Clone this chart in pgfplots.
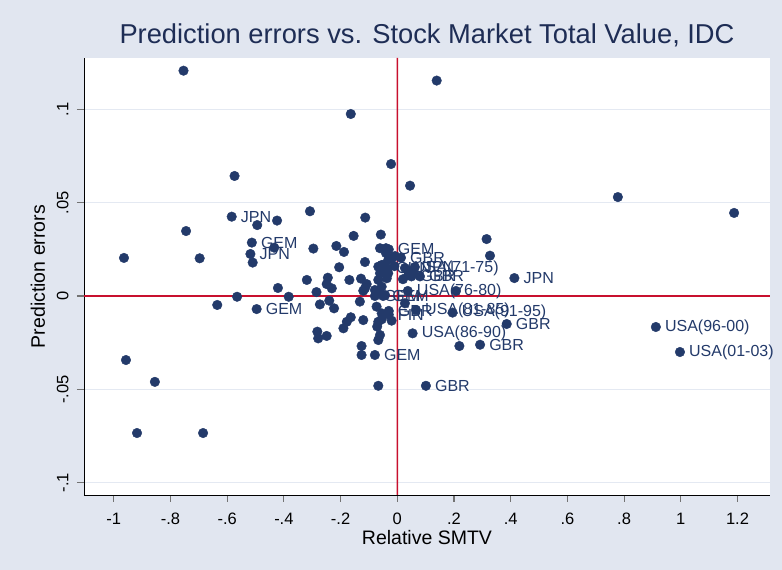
\documentclass[border=0pt]{standalone}
\usepackage{fontspec}
\setmainfont{Liberation Sans}
\usepackage{pgfplots}
\pgfplotsset{compat=1.18}
\definecolor{bgc}{RGB}{225,230,240}
\definecolor{navy}{RGB}{35,58,106}
\definecolor{titlec}{RGB}{30,45,85}
\definecolor{redl}{RGB}{200,16,46}
\definecolor{gridc}{RGB}{228,233,242}
\begin{document}
\begin{tikzpicture}
\fill[bgc] (0,0) rectangle (782pt,570pt);
\begin{axis}[
  at={(84pt,75pt)}, anchor=south west,
  scale only axis, width=686pt, height=437pt,
  xmin=-1.105, xmax=1.3146, ymin=-0.1066, ymax=0.1275,
  axis lines=left, axis line style={-, black, line width=0.8pt},
  axis background/.style={fill=white},
  xtick={-1,-0.8,-0.6,-0.4,-0.2,0,0.2,0.4,0.6,0.8,1,1.2},
  xticklabels={-1,-.8,-.6,-.4,-.2,0,.2,.4,.6,.8,1,1.2},
  ytick={-0.1,-0.05,0,0.05,0.1},
  yticklabels={-.1,-.05,0,.05,.1},
  tick align=outside, major tick length=7pt,
  tick style={black!55, line width=1.2pt},
  ymajorgrids=true, grid style={gridc, line width=1.6pt},
  tick label style={font=\fontsize{16.5}{19}\selectfont},
  xticklabel style={anchor=base, yshift=-23pt},
  yticklabel style={xshift=-8.5pt, rotate=90, anchor=base},
  title={Prediction errors vs. Stock Market Total Value, IDC},
  title style={font=\fontsize{27.3}{30}\selectfont, color=titlec, at={(axis description cs:0.5,1)}, anchor=base, yshift=8.7pt},
  xlabel={Relative SMTV},
  xlabel style={font=\fontsize{19.5}{22}\selectfont, at={(axis description cs:0.5,0)}, anchor=base, yshift=-50pt},
  ylabel={Prediction errors},
  ylabel style={font=\fontsize{19.5}{22}\selectfont, at={(axis description cs:-0.0569,0.5)}, anchor=base},
  clip=false,
]
\addplot[draw=redl, line width=1.5pt, no marks, forget plot] table {
x y
-0.000001 -0.1066
0.000001 0.1275
};
\addplot[draw=redl, line width=1.5pt, no marks, forget plot] table {
x y
-1.105 0
1.3146 0
};

\addplot[only marks, mark=*, mark size=4.8pt, color=navy, mark options={fill=navy, draw=navy}] coordinates {
(-0.754,0.1207) (0.139,0.1154) (-0.164,0.0975) (-0.022,0.0707) (0.045,0.0591)
(-0.574,0.0643) (-0.494,0.038) (-0.424,0.0404) (-0.308,0.0454) (-0.113,0.042)
(-0.745,0.0348) (-0.964,0.0204) (-0.697,0.0202) (-0.434,0.0259) (-0.510,0.0179)
(-0.296,0.0254) (-0.215,0.0268) (-0.188,0.0236) (-0.154,0.0322) (-0.058,0.0329)
(-0.114,0.0182) (-0.205,0.0154) (-0.319,0.0086) (-0.245,0.0098) (-0.249,0.0064)
(-0.231,0.0041) (-0.169,0.0086) (-0.128,0.0093) (-0.285,0.0021) (-0.421,0.0043)
(-0.565,-0.0004) (-0.383,-0.0004) (-0.273,-0.0045) (-0.240,-0.0025) (-0.223,-0.0066)
(-0.120,0.0028) (-0.132,-0.003) (-0.120,-0.0129) (-0.190,-0.0173) (-0.178,-0.0138)
(-0.164,-0.0114) (-0.282,-0.0191) (-0.279,-0.0227) (-0.249,-0.0214) (-0.126,-0.0268)
(-0.126,-0.0316) (-0.108,0.0064) (-0.635,-0.0048) (-0.957,-0.0343) (-0.855,-0.046)
(-0.918,-0.0734) (-0.685,-0.0734) (-0.067,-0.0481) (0.219,-0.0268) (0.778,0.053)
(1.188,0.0445) (0.315,0.0305) (0.327,0.0216) (0.207,0.0027) (-0.061,0.0256)
(-0.040,0.0256) (-0.008,0.0214) (-0.032,0.0193) (-0.067,0.0157) (-0.055,0.0166)
(-0.049,0.0165) (-0.061,0.0122) (-0.032,0.0122) (-0.067,0.0086) (-0.037,0.0095)
(-0.055,0.005) (-0.079,0.0032) (-0.114,0.0041) (-0.061,0.0016) (-0.043,0.0005)
(-0.073,-0.0057) (-0.055,-0.0093) (-0.067,-0.0138) (-0.055,-0.0125) (-0.020,-0.0132)
(-0.071,-0.0164) (-0.061,-0.0209) (-0.067,-0.0236) (0.027,-0.0039) (0.039,0.0113)
(0.057,0.013) (0.020,0.0090) (-0.020,0.0202) (-0.040,0.0230) (-0.010,0.0160)
};

\addplot[only marks, mark=*, mark size=4.8pt, color=navy, mark options={fill=navy, draw=navy},
  nodes near coords, point meta=explicit symbolic,
  every node near coord/.append style={anchor=west, inner sep=0pt, xshift=9pt, font=\fontsize{16}{18}\selectfont, color=navy}]
coordinates {
(-0.584,0.0425) [JPN]
(-0.513,0.0286) [GEM]
(-0.518,0.0225) [JPN]
(-0.496,-0.0070) [GEM]
(-0.030,0.0250) [GEM]
(0.013,0.0205) [GBR]
(-0.036,0.0150) [CHN]
(0.027,0.0150) [USA(71-75)]
(0.062,0.0155) [JPN]
(0.050,0.0105) [GBR]
(0.080,0.0105) [GBR]
(0.037,0.0027) [USA(76-80)]
(-0.079,0.0000) [GEM]
(-0.050,0.0000) [GEM]
(-0.030,-0.0080) [GBR]
(-0.030,-0.0100) [FIN]
(0.066,-0.0075) [USA(81-85)]
(0.195,-0.0089) [USA(91-95)]
(0.054,-0.020) [USA(86-90)]
(0.386,-0.015) [GBR]
(0.292,-0.0261) [GBR]
(-0.079,-0.0316) [GEM]
(0.101,-0.0481) [GBR]
(0.413,0.0096) [JPN]
(0.912,-0.0166) [USA(96-00)]
(0.997,-0.030) [USA(01-03)]
};
\end{axis}
\end{tikzpicture}
\end{document}
